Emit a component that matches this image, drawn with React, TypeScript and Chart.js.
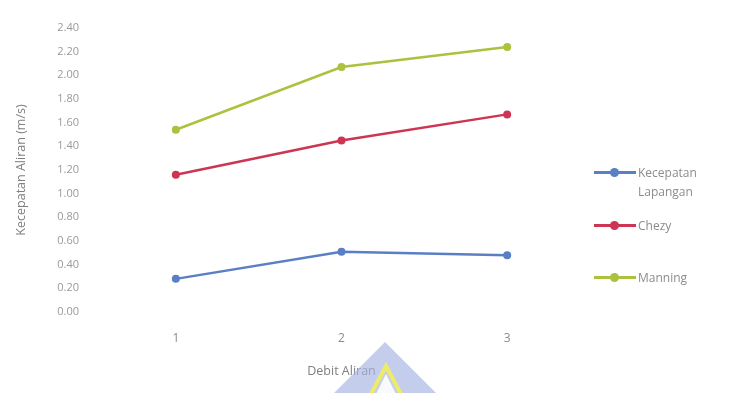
import React, { useEffect, useRef } from "react";
import { Chart, registerables } from "chart.js";

Chart.register(...registerables);

const debitLabels = ["1", "2", "3"];
const kecepatanLapangan = [0.28, 0.51, 0.48];
const chezy = [1.16, 1.45, 1.67];
const manning = [1.54, 2.07, 2.24];

const seriesNames = ["Kecepatan Lapangan", "Chezy", "Manning"];
const seriesColors = ["#5a7fc4", "#cc3553", "#aac23e"];

const FONT = "'Open Sans', 'Noto Sans', sans-serif";

// Faint logo shape drawn below the axis title
const logoPlugin = {
  id: "logoMark",
  afterDraw(chart: Chart) {
    const ctx = chart.ctx;
    ctx.save();
    ctx.globalAlpha = 0.65;
    ctx.fillStyle = "#a6b2e2";
    ctx.beginPath();
    ctx.moveTo(385, 342);
    ctx.lineTo(443, 400);
    ctx.lineTo(327, 400);
    ctx.closePath();
    ctx.fill();
    ctx.globalAlpha = 0.9;
    ctx.strokeStyle = "#f2ef5a";
    ctx.lineWidth = 4;
    ctx.beginPath();
    ctx.moveTo(370, 396);
    ctx.lineTo(386, 366);
    ctx.lineTo(402, 396);
    ctx.stroke();
    ctx.fillStyle = "#ffffff";
    ctx.beginPath();
    ctx.moveTo(386, 374);
    ctx.lineTo(397, 396);
    ctx.lineTo(375, 396);
    ctx.closePath();
    ctx.fill();
    ctx.restore();
  },
};

export default function App() {
  const canvasRef = useRef<HTMLCanvasElement | null>(null);

  useEffect(() => {
    document.body.style.margin = "0";
    const canvas = canvasRef.current;
    if (!canvas) return;
    const chart = new Chart(canvas, {
      type: "line",
      data: {
        labels: debitLabels,
        datasets: [kecepatanLapangan, chezy, manning].map((values, i) => ({
          label: seriesNames[i],
          data: values,
          borderColor: seriesColors[i],
          backgroundColor: seriesColors[i],
          borderWidth: 2.5,
          pointRadius: 4,
          pointBorderWidth: 0,
          tension: 0,
        })),
      },
      options: {
        responsive: false,
        animation: false,
        layout: { padding: { left: 0, right: 146, top: 28, bottom: 0 } },
        plugins: {
          legend: { display: false },
          tooltip: { enabled: false },
        },
        scales: {
          x: {
            offset: true,
            grid: { display: false, drawTicks: false },
            border: { display: false },
            ticks: { color: "#8c8c8c", font: { family: FONT, size: 12 }, padding: 19 },
            title: {
              display: true,
              text: "Debit Aliran",
              color: "#7f7f7f",
              font: { family: FONT, size: 12.5 },
              padding: { top: 2, bottom: 14 },
            },
            afterFit(scale: any) {
              scale.height = 81;
            },
          },
          y: {
            min: 0,
            max: 2.4,
            grid: { display: false, drawTicks: false },
            border: { display: false },
            ticks: {
              stepSize: 0.2,
              color: "#9a9a9a",
              font: { family: FONT, size: 11 },
              padding: 14,
              callback: (v: any) => Number(v).toFixed(2),
            },
            title: {
              display: true,
              text: "Kecepatan Aliran (m/s)",
              color: "#7f7f7f",
              font: { family: FONT, size: 12.5 },
              padding: { top: 14, bottom: 0 },
            },
            afterFit(scale: any) {
              scale.width = 93;
            },
          },
        },
      },
      plugins: [logoPlugin],
    });
    return () => chart.destroy();
  }, []);

  const legendItems = [
    { lines: ["Kecepatan", "Lapangan"], top: 163 },
    { lines: ["Chezy"], top: 216 },
    { lines: ["Manning"], top: 268 },
  ];

  return (
    <div style={{ position: "fixed", left: 0, top: 0, width: 736, height: 393, background: "#fff" }}>
      <canvas ref={canvasRef} width={736} height={393} style={{ display: "block" }} />
      {legendItems.map((item, i) => (
        <div
          key={i}
          style={{
            position: "absolute",
            left: 594,
            top: item.top,
            display: "flex",
            alignItems: "flex-start",
            fontFamily: FONT,
            fontSize: 12,
            color: "#8c8c8c",
            lineHeight: "19px",
          }}
        >
          <div style={{ position: "relative", width: 42, height: 19, flex: "none" }}>
            <div
              style={{
                position: "absolute",
                left: 0,
                top: 8,
                width: 42,
                height: 3,
                background: seriesColors[i],
              }}
            />
            <div
              style={{
                position: "absolute",
                left: 16,
                top: 5,
                width: 9,
                height: 9,
                borderRadius: "50%",
                background: seriesColors[i],
              }}
            />
          </div>
          <div style={{ marginLeft: 2 }}>
            {item.lines.map((l, j) => (
              <div key={j}>{l}</div>
            ))}
          </div>
        </div>
      ))}
    </div>
  );
}
